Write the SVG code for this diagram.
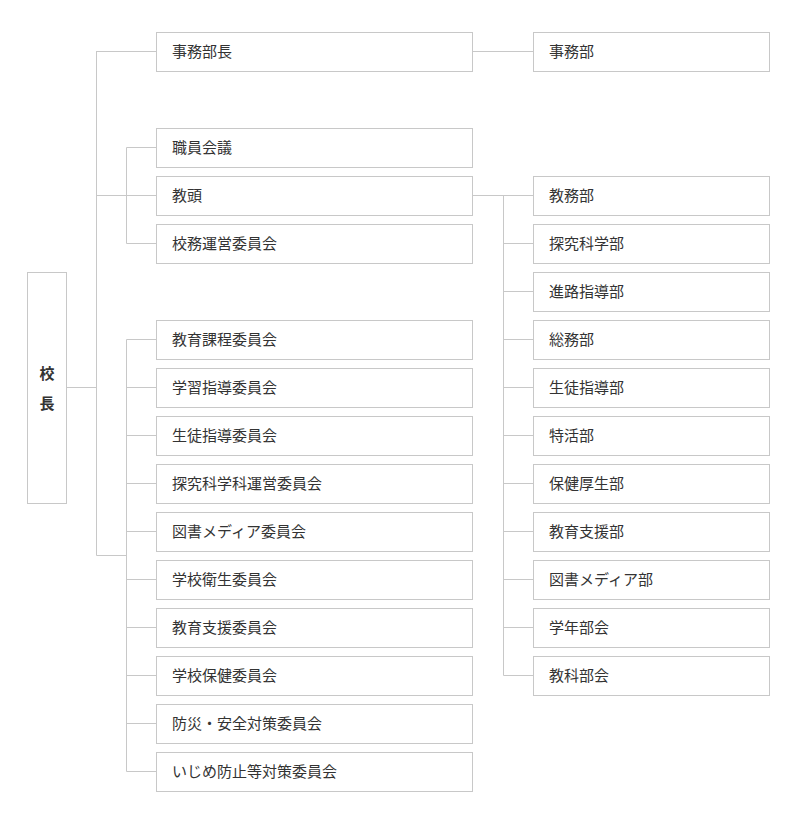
<svg xmlns="http://www.w3.org/2000/svg" width="796" height="824" viewBox="0 0 796 824">
<style>
.b{fill:#fff;stroke:#c8c8c8;stroke-width:1}
.t{font-family:"Noto Sans CJK JP","Noto Sans",sans-serif;font-size:15px;fill:#333;dominant-baseline:central}
.p{font-family:"Noto Sans CJK JP","Noto Sans",sans-serif;font-size:15px;font-weight:bold;fill:#333;text-anchor:middle;dominant-baseline:central}
.c{fill:none;stroke:#c8c8c8;stroke-width:1}
</style>
<rect width="796" height="824" fill="#fff"/>
<g id="connectors" class="c">
<path d="M66.5 387.5H96.5M96.5 51V555.5H126.5M96.5 51.5H156M96.5 195.5H156M126.5 147.5V243.5M126.5 147.5H156M126.5 243.5H156"/>
<path d="M126.5 339.5V771.5M126.5 339.5H156M126.5 387.5H156M126.5 435.5H156M126.5 483.5H156M126.5 531.5H156M126.5 579.5H156M126.5 627.5H156M126.5 675.5H156M126.5 723.5H156M126.5 771.5H156"/>
<path d="M472 51.5H533M472 195.5H533M503.5 195.5V675.5M503.5 243.5H533M503.5 291.5H533M503.5 339.5H533M503.5 387.5H533M503.5 435.5H533M503.5 483.5H533M503.5 531.5H533M503.5 579.5H533M503.5 627.5H533M503.5 675.5H533"/>
</g>
<g id="principal"><rect class="b" x="27.5" y="272.5" width="39" height="231"/><text class="p" x="47" y="372">校</text><text class="p" x="47" y="402">長</text></g>
<g id="n1"><rect class="b" x="156.5" y="32.5" width="316" height="39"/><text class="t" x="172" y="50.5">事務部長</text></g>
<g id="n2"><rect class="b" x="156.5" y="128.5" width="316" height="39"/><text class="t" x="172" y="146.5">職員会議</text></g>
<g id="n3"><rect class="b" x="156.5" y="176.5" width="316" height="39"/><text class="t" x="172" y="194.5">教頭</text></g>
<g id="n4"><rect class="b" x="156.5" y="224.5" width="316" height="39"/><text class="t" x="172" y="242.5">校務運営委員会</text></g>
<g id="n5"><rect class="b" x="156.5" y="320.5" width="316" height="39"/><text class="t" x="172" y="338.5">教育課程委員会</text></g>
<g id="n6"><rect class="b" x="156.5" y="368.5" width="316" height="39"/><text class="t" x="172" y="386.5">学習指導委員会</text></g>
<g id="n7"><rect class="b" x="156.5" y="416.5" width="316" height="39"/><text class="t" x="172" y="434.5">生徒指導委員会</text></g>
<g id="n8"><rect class="b" x="156.5" y="464.5" width="316" height="39"/><text class="t" x="172" y="482.5">探究科学科運営委員会</text></g>
<g id="n9"><rect class="b" x="156.5" y="512.5" width="316" height="39"/><text class="t" x="172" y="530.5">図書メディア委員会</text></g>
<g id="n10"><rect class="b" x="156.5" y="560.5" width="316" height="39"/><text class="t" x="172" y="578.5">学校衛生委員会</text></g>
<g id="n11"><rect class="b" x="156.5" y="608.5" width="316" height="39"/><text class="t" x="172" y="626.5">教育支援委員会</text></g>
<g id="n12"><rect class="b" x="156.5" y="656.5" width="316" height="39"/><text class="t" x="172" y="674.5">学校保健委員会</text></g>
<g id="n13"><rect class="b" x="156.5" y="704.5" width="316" height="39"/><text class="t" x="172" y="722.5">防災・安全対策委員会</text></g>
<g id="n14"><rect class="b" x="156.5" y="752.5" width="316" height="39"/><text class="t" x="172" y="770.5">いじめ防止等対策委員会</text></g>
<g id="r1"><rect class="b" x="533.5" y="32.5" width="236" height="39"/><text class="t" x="549" y="50.5">事務部</text></g>
<g id="r2"><rect class="b" x="533.5" y="176.5" width="236" height="39"/><text class="t" x="549" y="194.5">教務部</text></g>
<g id="r3"><rect class="b" x="533.5" y="224.5" width="236" height="39"/><text class="t" x="549" y="242.5">探究科学部</text></g>
<g id="r4"><rect class="b" x="533.5" y="272.5" width="236" height="39"/><text class="t" x="549" y="290.5">進路指導部</text></g>
<g id="r5"><rect class="b" x="533.5" y="320.5" width="236" height="39"/><text class="t" x="549" y="338.5">総務部</text></g>
<g id="r6"><rect class="b" x="533.5" y="368.5" width="236" height="39"/><text class="t" x="549" y="386.5">生徒指導部</text></g>
<g id="r7"><rect class="b" x="533.5" y="416.5" width="236" height="39"/><text class="t" x="549" y="434.5">特活部</text></g>
<g id="r8"><rect class="b" x="533.5" y="464.5" width="236" height="39"/><text class="t" x="549" y="482.5">保健厚生部</text></g>
<g id="r9"><rect class="b" x="533.5" y="512.5" width="236" height="39"/><text class="t" x="549" y="530.5">教育支援部</text></g>
<g id="r10"><rect class="b" x="533.5" y="560.5" width="236" height="39"/><text class="t" x="549" y="578.5">図書メディア部</text></g>
<g id="r11"><rect class="b" x="533.5" y="608.5" width="236" height="39"/><text class="t" x="549" y="626.5">学年部会</text></g>
<g id="r12"><rect class="b" x="533.5" y="656.5" width="236" height="39"/><text class="t" x="549" y="674.5">教科部会</text></g>
</svg>
